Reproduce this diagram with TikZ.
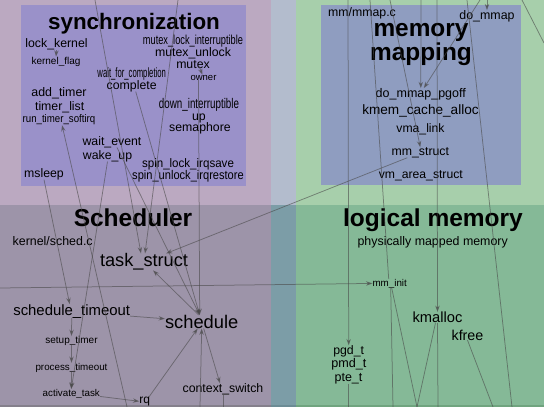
\documentclass[tikz,border=0pt]{standalone}
\usepackage{fontspec}
\setmainfont{Liberation Sans}
\usetikzlibrary{arrows.meta}
\definecolor{bgTL}{HTML}{BBA9C1}
\definecolor{bgTM}{HTML}{B3BCCD}
\definecolor{bgTR}{HTML}{A7CFAB}
\definecolor{bgBL}{HTML}{9D94A9}
\definecolor{bgBM}{HTML}{7C9DA7}
\definecolor{bgBR}{HTML}{85B997}
\definecolor{syncbox}{HTML}{9A91C9}
\definecolor{mmapbox}{HTML}{8F9DC0}
\definecolor{bandL}{HTML}{85808C}
\definecolor{bandM}{HTML}{6C8C95}
\definecolor{bandR}{HTML}{70A47F}
\definecolor{linec}{HTML}{4A4A4A}
\newcommand\setfs[1]{\fontsize{#1}{#1}\selectfont}
\newcommand\sqz[2]{\scalebox{#1}[1]{#2}}
\tikzset{
  lbl/.style={anchor=base, inner sep=0pt, outer sep=0pt, text=black, font=\setfs{12.3}},
  ttl/.style={anchor=base, inner sep=0pt, outer sep=0pt, text=black, font=\setfs{24.5}\bfseries},
  ln/.style={draw=linec, draw opacity=0.6, line width=0.75pt},
  arr/.style={ln, -{Stealth[length=6.5pt,width=4.5pt]}, fill opacity=0.6},
}
\begin{document}
\begin{tikzpicture}[x=1pt,y=-1pt]
\useasboundingbox (0,0) rectangle (544,407);
\begin{scope}
\clip (0,0) rectangle (544,407);
% backgrounds
\fill[bgTL] (0,0) rectangle (271,205);
\fill[bgTM] (271,0) rectangle (296,205);
\fill[bgTR] (296,0) rectangle (544,205);
\fill[bgBL] (0,205) rectangle (271,405);
\fill[bgBM] (271,205) rectangle (296,405);
\fill[bgBR] (296,205) rectangle (544,405);
\fill[bandL] (0,405) rectangle (271,407);
\fill[bandM] (271,405) rectangle (296,407);
\fill[bandR] (296,405) rectangle (544,407);
\fill[syncbox] (21,5) rectangle (246,186);
\fill[mmapbox] (321,5) rectangle (521,185);

% synchronization
\node[ttl, font=\setfs{22.4}\bfseries] (synctitle) at (134,29) {synchronization};
\node[lbl] (lock_kernel) at (56.5,47.7) {lock\_kernel};
\node[lbl, font=\setfs{10}] (kernel_flag) at (56,64) {kernel\_flag};
\node[lbl, font=\setfs{13}] (mutexlock) at (193,44.3) {\sqz{0.71}{mutex\_lock\_interruptible}};
\node[lbl] (mutex_unlock) at (193,56.3) {mutex\_unlock};
\node[lbl] (mutex) at (193,68) {mutex};
\node[lbl, font=\setfs{9.5}] (owner) at (203.5,80) {owner};
\node[lbl, font=\setfs{13.5}] (waitfor) at (131.7,77) {\sqz{0.57}{wait\_for\_completion}};
\node[lbl] (complete) at (131.7,89) {complete};
\node[lbl, font=\setfs{12.4}] (add_timer) at (59,96) {add\_timer};
\node[lbl] (timer_list) at (59.7,110.7) {timer\_list};
\node[lbl, font=\setfs{11}] (run_timer) at (59,122.7) {\sqz{0.88}{run\_timer\_softirq}};
\node[lbl, font=\setfs{14}] (down_int) at (199,108) {\sqz{0.70}{down\_interruptible}};
\node[lbl] (up) at (199,120) {up};
\node[lbl] (semaphore) at (200,131.7) {semaphore};
\node[lbl] (wait_event) at (112,145) {wait\_event};
\node[lbl] (wake_up) at (107.5,159) {wake\_up};
\node[lbl] (spinlock) at (188,167.3) {\sqz{0.94}{spin\_lock\_irqsave}};
\node[lbl, font=\setfs{12.6}] (spinunlock) at (188,179) {\sqz{0.88}{spin\_unlock\_irqrestore}};
\node[lbl] (msleep) at (44,177) {msleep};

% memory mapping
\node[lbl] (mmmap) at (362,16.7) {mm/mmap.c};
\node[lbl, font=\setfs{12.4}] (do_mmap) at (487,19.3) {do\_mmap};
\node[ttl, font=\setfs{24.4}\bfseries] (memtitleA) at (421,36) {memory};
\node[ttl, font=\setfs{24.4}\bfseries] (memtitleB) at (421,60) {mapping};
\node[lbl, font=\setfs{12.5}] (do_mmap_pgoff) at (420.8,97.3) {do\_mmap\_pgoff};
\node[lbl, font=\setfs{13.6}] (kmem_cache_alloc) at (420.5,114.3) {kmem\_cache\_alloc};
\node[lbl, font=\setfs{12.2}] (vma_link) at (420.5,132.3) {vma\_link};
\node[lbl] (mm_struct) at (420.3,155.3) {mm\_struct};
\node[lbl, font=\setfs{12.2}] (vm_area_struct) at (420.8,178.3) {vm\_area\_struct};

% scheduler
\node[ttl] (schedtitle) at (133,226.7) {Scheduler};
\node[lbl, font=\setfs{12.4}] (kernelsched) at (52.7,245) {kernel/sched.c};
\node[lbl, font=\setfs{18.2}] (task_struct) at (144,266.7) {task\_struct};
\node[lbl, font=\setfs{14.9}] (schedule_timeout) at (71.7,315) {schedule\_timeout};
\node[lbl, font=\setfs{18.3}] (schedule) at (201.7,328.3) {schedule};
\node[lbl, font=\setfs{10}] (setup_timer) at (71.5,343.3) {setup\_timer};
\node[lbl, font=\setfs{9.8}] (process_timeout) at (71.5,370) {process\_timeout};
\node[lbl, font=\setfs{9.8}] (activate_task) at (71.3,396) {activate\_task};
\node[lbl, font=\setfs{12}] (rq) at (144.7,403.3) {rq};
\node[lbl] (context_switch) at (223,392.3) {context\_switch};

% logical memory
\node[ttl] (logtitle) at (433,226.7) {logical memory};
\node[lbl, font=\setfs{12.4}] (physmapped) at (432.7,245.7) {physically mapped memory};
\node[lbl, font=\setfs{9.8}] (mm_init) at (389.7,286) {mm\_init};
\node[lbl, font=\setfs{14.7}] (kmalloc) at (437.5,322.7) {kmalloc};
\node[lbl, font=\setfs{14.3}] (kfree) at (467.5,340) {kfree};
\node[lbl] (pgd_t) at (348.7,354.3) {pgd\_t};
\node[lbl, font=\setfs{12.6}] (pmd_t) at (348.8,367.7) {pmd\_t};
\node[lbl, font=\setfs{12.5}] (pte_t) at (348.5,381) {pte\_t};

% free ends
\coordinate (tA) at (95,0);
\coordinate (tB) at (178,0);
\coordinate (bRun) at (127,407);
\coordinate (lMm) at (0,288);
\coordinate (t370) at (370,0);
\coordinate (bMmA) at (393,407);
\coordinate (bX) at (417,407);
\coordinate (bKm) at (438,407);
\coordinate (bKf) at (493,407);
\coordinate (t467) at (467,0);
\coordinate (b512) at (512,407);
\coordinate (t480) at (480,0);
\coordinate (t421) at (421,0);
\coordinate (t487) at (487,0);
\coordinate (t390) at (390,0);
\coordinate (t348) at (348,0);
\coordinate (t437) at (437,0);
\coordinate (bPte) at (348.5,407);
\coordinate (c522) at (522,0);
\coordinate (c544) at (544,43);
\coordinate (bSch) at (200,407);
\coordinate (bCtx) at (223,407);

% connectors: synchronization / scheduler
\draw[arr] (tA) -- ([xshift=-3pt]task_struct.north);
\draw[arr] (tB) -- ([xshift=1pt]task_struct.north);
\draw[arr] ([xshift=4pt]complete.south) -- ([xshift=-2pt]schedule.north);
\draw[arr] ([xshift=6pt,yshift=2pt]mutex.south) -- ([xshift=-1pt]owner.north);
\draw[arr] ([xshift=-5pt]owner.south) -- ([xshift=-2pt]schedule.north);
\draw[arr] ([xshift=5pt]wait_event.south) -- ([xshift=-2pt]schedule.north);
\draw[arr] (wake_up.south) -- (activate_task.north);
\draw[arr] (msleep.south) -- ([xshift=-2pt]schedule_timeout.north);
\draw[arr] (bRun) -- ([xshift=3pt]run_timer.south);
\draw[arr] (lock_kernel.south) -- (kernel_flag.north);
\draw[arr] ([xshift=-13pt]mm_struct.south) -- ([xshift=22pt]task_struct.north);
\draw[arr] ([xshift=-3pt]schedule.north) -- ([xshift=9pt]task_struct.south);
\draw[arr] ([yshift=-5pt]schedule_timeout.east) -- ([yshift=3pt]schedule.west);
\draw[arr] (schedule_timeout.south) -- (setup_timer.north);
\draw[arr] (setup_timer.south) -- (process_timeout.north);
\draw[arr] (process_timeout.south) -- (activate_task.north);
\draw[arr] ([yshift=-3pt]activate_task.east) -- (rq.west);
\draw[arr] ([xshift=-1pt]rq.north east) -- ([xshift=-4pt]schedule.south);
\draw[arr] ([xshift=2pt]schedule.south) -- ([xshift=-3pt]context_switch.north);
\draw[arr] (bSch) -- (schedule.south);
\draw[ln] ([xshift=6pt]context_switch.south) -| (bCtx);

% connectors: memory
\draw[arr] (lMm) -- (mm_init.west);
\draw[ln] (t370) -- ([xshift=-1pt]mm_init.north);
\draw[ln] ([xshift=1pt]mm_init.south) -- (bMmA);
\draw[ln] ([xshift=2pt]mm_init.south) -- (bX);
\draw[arr] (t437) -- (kmalloc.north);
\draw[ln] ([xshift=-2pt]kmalloc.south) -- (bX);
\draw[ln] (kmalloc.south) -- (bKm);
\draw[ln] (kfree.south) -- (bKf);
\draw[ln] (t467) -- (b512);
\draw[arr] (t480) -- ([xshift=3pt]do_mmap_pgoff.north);
\draw[arr] (t421) -- (do_mmap_pgoff.north);
\draw[arr] (t487) -- (do_mmap.north);
\draw[arr] (t390) -- (mm_struct.north);
\draw[arr] (t348) -- (pgd_t.north);
\draw[ln] (pte_t.south) -- (bPte);
\draw[ln] (c522) -- (c544);
\end{scope}
\end{tikzpicture}
\end{document}
